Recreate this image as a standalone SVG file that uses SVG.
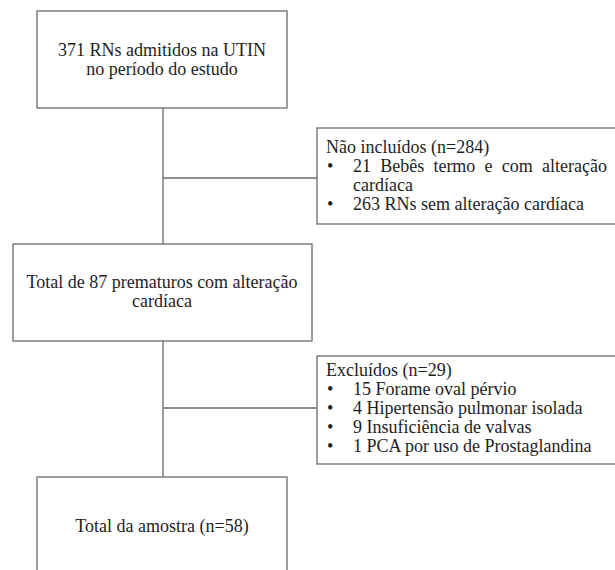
<svg xmlns="http://www.w3.org/2000/svg" width="615" height="570" viewBox="0 0 615 570">
<style>
.box{fill:#fff;stroke:#6b6b6b;stroke-width:1.3}
.ln{stroke:#6b6b6b;stroke-width:1.3;fill:none}
text{font-family:"Liberation Serif","Times New Roman",serif;font-size:18px;fill:#1e1e1e}
.c{text-anchor:middle}
</style>
<rect width="615" height="570" fill="#fff"/>
<g id="connectors">
<line class="ln" x1="163" y1="108" x2="163" y2="244"/>
<line class="ln" x1="163" y1="178" x2="317" y2="178"/>
<line class="ln" x1="163" y1="341" x2="163" y2="477"/>
<line class="ln" x1="163" y1="408" x2="317" y2="408"/>
</g>
<g id="n1">
<rect class="box" x="37" y="11" width="250" height="97"/>
<text class="c" x="162" y="56">371 RNs admitidos na UTIN</text>
<text class="c" x="162" y="75">no período do estudo</text>
</g>
<g id="n2">
<rect class="box" x="317" y="128" width="300" height="96"/>
<text x="326" y="153">Não incluídos (n=284)</text>
<text x="327" y="172">•</text>
<text x="353" y="172" word-spacing="4.7">21 Bebês termo e com alteração</text>
<text x="353" y="191">cardíaca</text>
<text x="327" y="210">•</text>
<text x="353" y="210">263 RNs sem alteração cardíaca</text>
</g>
<g id="n3">
<rect class="box" x="13" y="244" width="299" height="97"/>
<text class="c" x="162" y="288">Total de 87 prematuros com alteração</text>
<text class="c" x="162" y="307">cardíaca</text>
</g>
<g id="n4">
<rect class="box" x="317" y="356" width="300" height="108"/>
<text x="326" y="376">Excluídos (n=29)</text>
<text x="327" y="395">•</text>
<text x="353" y="395">15 Forame oval pérvio</text>
<text x="327" y="414">•</text>
<text x="353" y="414">4 Hipertensão pulmonar isolada</text>
<text x="327" y="433">•</text>
<text x="353" y="433">9 Insuficiência de valvas</text>
<text x="327" y="452">•</text>
<text x="353" y="452">1 PCA por uso de Prostaglandina</text>
</g>
<g id="n5">
<rect class="box" x="37" y="477" width="250" height="110"/>
<text class="c" x="162" y="532">Total da amostra (n=58)</text>
</g>
</svg>
